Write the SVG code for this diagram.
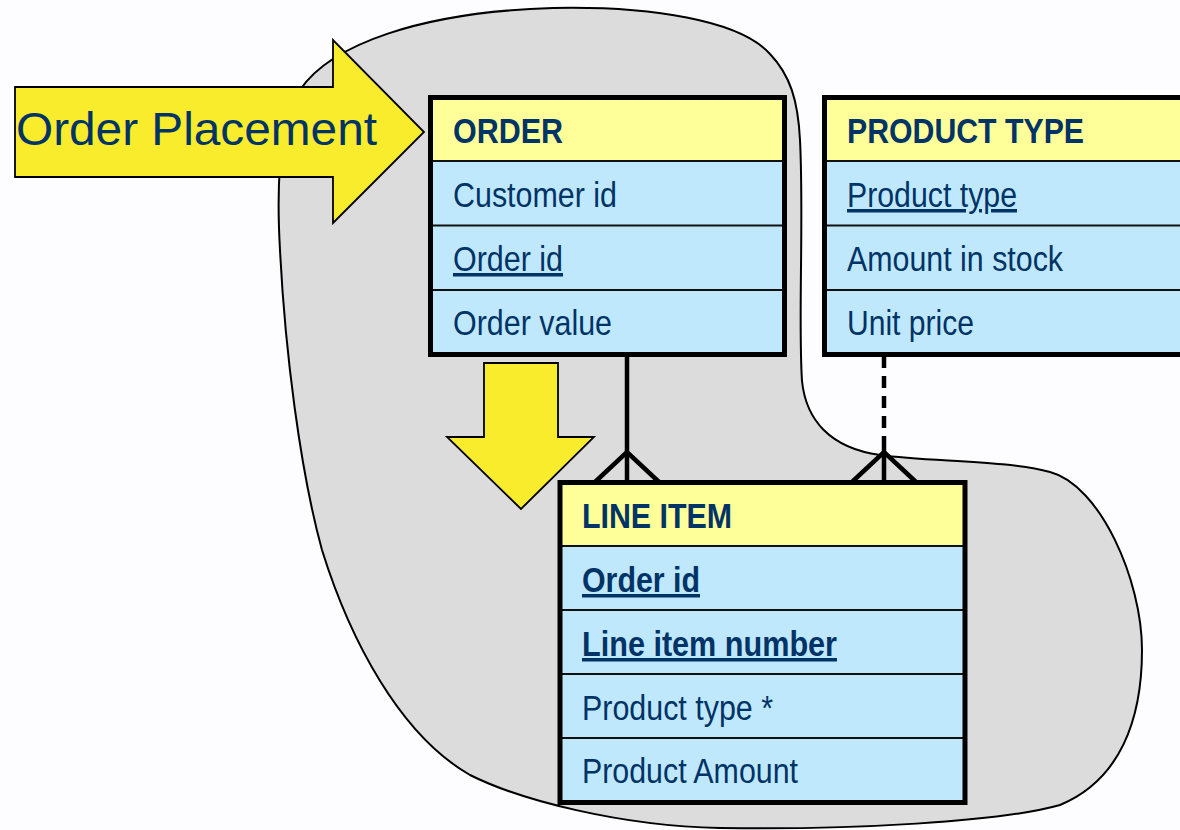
<svg xmlns="http://www.w3.org/2000/svg" width="1180" height="830" viewBox="0 0 1180 830">
  <style>
    .bg { fill: #fdfdff; }
    .scope { fill: #dcdcdc; stroke: #000; stroke-width: 2; }
    .bigarrow { fill: #f9ec2c; stroke: #000; stroke-width: 1.8; stroke-linejoin: miter; }
    .hdr { fill: #ffff99; }
    .row { fill: #c0e8fd; }
    .sep { stroke: #111; stroke-width: 2; }
    .frame { fill: none; stroke: #000; stroke-width: 5; }
    .t { font-family: "Liberation Sans", Arial, sans-serif; font-size: 35px; fill: #003366; }
    .b { font-weight: bold; }
    .u { text-decoration: underline; }
    .lbl { font-family: "Liberation Sans", Arial, sans-serif; font-size: 47px; fill: #003366; }
    .rel { stroke: #000; stroke-width: 4.5; fill: none; }
    .dash { stroke-dasharray: 12 8; }
  </style>

  <rect class="bg" x="0" y="0" width="1180" height="830"/>

  <!-- subject area boundary -->
  <path id="scope" class="scope" d="M 553 8
    C 650 6, 740 20, 770 54
    C 790 75, 798 100, 800 140
    C 804 220, 798 320, 802 381
    C 806 420, 830 448, 880 455
    C 930 462, 1005 460, 1050 472
    C 1100 485, 1142 580, 1142 650
    C 1142 720, 1120 780, 1060 805
    C 1000 822, 850 830, 720 828
    C 620 826, 520 800, 470 775
    C 400 735, 350 640, 322 550
    C 300 470, 285 350, 280 250
    C 276 180, 280 120, 300 90
    C 330 45, 420 12, 553 8 Z"/>

  <!-- process arrows -->
  <g id="order-placement">
    <polygon class="bigarrow" points="15,87 333,87 333,40 424,132 333,223 333,177 15,177"/>
    <text class="lbl" x="16" y="145" textLength="361" lengthAdjust="spacingAndGlyphs">Order Placement</text>
  </g>
  <g id="flow-down">
    <polygon class="bigarrow" points="484,363 558,363 558,437 594,437 521,509 447,437 484,437"/>
  </g>

  <!-- relationships -->
  <g id="connectors">
    <line class="rel" x1="627" y1="356" x2="627" y2="481"/>
    <polyline class="rel" points="595,482 627,452 659,482"/>
    <line class="rel dash" x1="884" y1="356" x2="884" y2="452"/>
    <line class="rel" x1="884" y1="448" x2="884" y2="481"/>
    <polyline class="rel" points="852,482 884,452 916,482"/>
  </g>

  <!-- ORDER entity -->
  <g id="order">
    <rect class="hdr" x="430" y="97" width="355" height="64"/>
    <rect class="row" x="430" y="161" width="355" height="194"/>
    <line class="sep" x1="430" y1="161" x2="786" y2="161"/>
    <line class="sep" x1="430" y1="225.5" x2="786" y2="225.5"/>
    <line class="sep" x1="430" y1="290" x2="786" y2="290"/>
    <rect class="frame" x="430.5" y="97.5" width="354" height="257"/>
    <text class="t b" x="453" y="143" textLength="110" lengthAdjust="spacingAndGlyphs">ORDER</text>
    <text class="t" x="453" y="207" textLength="164" lengthAdjust="spacingAndGlyphs">Customer id</text>
    <text class="t u" x="453" y="271" textLength="110" lengthAdjust="spacingAndGlyphs">Order id</text>
    <text class="t" x="453" y="335" textLength="159" lengthAdjust="spacingAndGlyphs">Order value</text>
  </g>

  <!-- PRODUCT TYPE entity -->
  <g id="product-type">
    <rect class="hdr" x="824" y="97" width="380" height="64"/>
    <rect class="row" x="824" y="161" width="380" height="194"/>
    <line class="sep" x1="824" y1="161" x2="1204" y2="161"/>
    <line class="sep" x1="824" y1="225.5" x2="1204" y2="225.5"/>
    <line class="sep" x1="824" y1="290" x2="1204" y2="290"/>
    <rect class="frame" x="824.5" y="97.5" width="380" height="257"/>
    <text class="t b" x="847" y="143" textLength="237" lengthAdjust="spacingAndGlyphs">PRODUCT TYPE</text>
    <text class="t u" x="847" y="207" textLength="170" lengthAdjust="spacingAndGlyphs">Product type</text>
    <text class="t" x="847" y="271" textLength="216" lengthAdjust="spacingAndGlyphs">Amount in stock</text>
    <text class="t" x="847" y="335" textLength="127" lengthAdjust="spacingAndGlyphs">Unit price</text>
  </g>

  <!-- LINE ITEM entity -->
  <g id="line-item">
    <rect class="hdr" x="560" y="482" width="405" height="64"/>
    <rect class="row" x="560" y="546" width="405" height="257"/>
    <line class="sep" x1="560" y1="546" x2="966" y2="546"/>
    <line class="sep" x1="560" y1="610" x2="966" y2="610"/>
    <line class="sep" x1="560" y1="674" x2="966" y2="674"/>
    <line class="sep" x1="560" y1="738" x2="966" y2="738"/>
    <rect class="frame" x="560" y="482.5" width="405" height="320"/>
    <text class="t b" x="582" y="528" textLength="150" lengthAdjust="spacingAndGlyphs">LINE ITEM</text>
    <text class="t b u" x="582" y="592" textLength="118" lengthAdjust="spacingAndGlyphs">Order id</text>
    <text class="t b u" x="582" y="656" textLength="255" lengthAdjust="spacingAndGlyphs">Line item number</text>
    <text class="t" x="582" y="720" textLength="191" lengthAdjust="spacingAndGlyphs">Product type *</text>
    <text class="t" x="582" y="783" textLength="216" lengthAdjust="spacingAndGlyphs">Product Amount</text>
  </g>
</svg>
